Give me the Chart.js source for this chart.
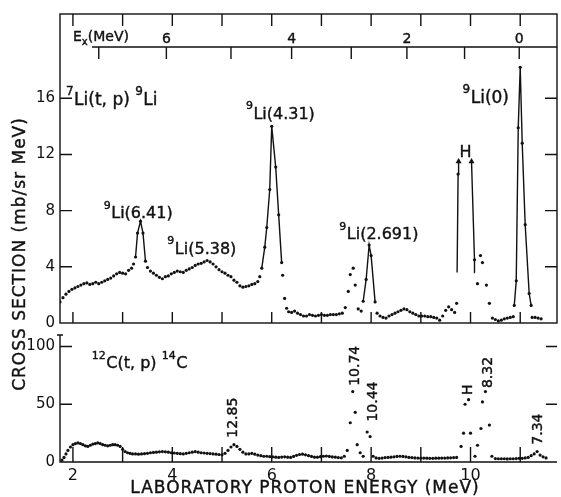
<!DOCTYPE html>
<html>
<head>
<meta charset="utf-8">
<script src="https://cdn.jsdelivr.net/npm/chart.js@4.4.1/dist/chart.umd.min.js"></script>
<style>
  html, body { margin: 0; padding: 0; background: #fff; }
  #wrap { position: relative; width: 561px; height: 497px; }
  #wrap canvas { position: absolute; left: 0; top: 0; }
</style>
</head>
<body>
<div id="wrap">
  <canvas id="topChart" width="561" height="497"></canvas>
  <canvas id="botChart" width="561" height="497"></canvas>
</div>
<script>
// ===== 7Li(t,p)9Li : pontos do contínuo (energia do próton, seção de choque) =====
const EP_TOP = [
  1.74, 1.80, 1.86, 1.92, 1.98, 2.04, 2.10, 2.16, 2.22, 2.28,
  2.34, 2.40, 2.46, 2.52, 2.58, 2.64, 2.70, 2.76, 2.82, 2.88,
  2.94, 3.00, 3.06, 3.12, 3.18, 3.22,
  3.50, 3.56, 3.62, 3.68, 3.74, 3.80, 3.86, 3.92, 3.98, 4.04,
  4.10, 4.16, 4.22, 4.28, 4.34, 4.40, 4.46, 4.52, 4.58, 4.64,
  4.70, 4.76, 4.82, 4.88, 4.94, 5.00, 5.06, 5.12, 5.18, 5.24,
  5.30, 5.36, 5.42, 5.48, 5.54, 5.60, 5.66, 5.72, 5.76,
  6.22, 6.26, 6.30, 6.34, 6.40, 6.46, 6.52, 6.58, 6.64, 6.70,
  6.76, 6.82, 6.88, 6.94, 7.00, 7.06, 7.12, 7.18, 7.24, 7.30,
  7.36, 7.42, 7.48, 7.54, 7.58, 7.64, 7.68, 7.74, 7.80,
  8.12, 8.18, 8.24, 8.30, 8.36, 8.42, 8.48, 8.54, 8.60, 8.66,
  8.72, 8.78, 8.84, 8.90, 8.96, 9.02, 9.08, 9.14, 9.20, 9.26,
  9.32, 9.38, 9.44, 9.50, 9.56, 9.62, 9.68, 9.72,
  10.14, 10.20, 10.24, 10.32, 10.38, 10.44, 10.50, 10.56, 10.62, 10.68,
  10.74, 10.80, 10.86,
  11.24, 11.30, 11.36, 11.42,
];
const XS_TOP = [
  1.5, 1.8, 2.05, 2.25, 2.4, 2.5, 2.6, 2.7, 2.8, 2.85,
  2.75, 2.8, 2.9, 2.8, 2.9, 3.0, 3.1, 3.2, 3.35, 3.5,
  3.6, 3.55, 3.5, 3.75, 3.9, 4.2,
  3.95, 3.7, 3.55, 3.4, 3.25, 3.15, 3.3, 3.35, 3.5, 3.6,
  3.7, 3.65, 3.6, 3.75, 3.85, 3.95, 4.1, 4.2, 4.25, 4.35,
  4.45, 4.35, 4.2, 4.0, 3.8, 3.65, 3.55, 3.4, 3.3, 3.05,
  2.9, 2.65, 2.55, 2.6, 2.65, 2.75, 2.8, 2.95, 3.3,
  3.4, 1.75, 1.05, 0.8, 0.75, 0.85, 0.7, 0.6, 0.5, 0.5,
  0.6, 0.55, 0.5, 0.55, 0.6, 0.55, 0.55, 0.6, 0.6, 0.6,
  0.65, 0.7, 1.1, 2.25, 3.45, 3.9, 2.7, 1.0, 0.85,
  0.7, 0.5, 0.4, 0.35, 0.5, 0.6, 0.7, 0.8, 0.9, 1.0,
  0.95, 0.8, 0.7, 0.6, 0.5, 0.5, 0.5, 0.45, 0.45, 0.4,
  0.35, 0.2, 0.5, 0.9, 1.15, 0.95, 0.75, 1.4,
  2.8, 4.8, 4.3, 2.7, 1.4, 0.35, 0.25, 0.15, 0.2, 0.3,
  0.35, 0.4, 0.45,
  0.4, 0.4, 0.35, 0.3,
];

// ===== Picos desenhados com linha =====
const PEAK_641_EP = [3.26, 3.30, 3.36, 3.41, 3.46];
const PEAK_641_XS = [4.7, 6.4, 7.25, 6.4, 4.4];
const PEAK_431_EP = [5.80, 5.86, 5.90, 5.96, 6.00, 6.08, 6.14, 6.20];
const PEAK_431_XS = [3.9, 5.4, 6.8, 9.5, 14.0, 11.1, 7.7, 4.3];
const PEAK_2691_EP = [7.84, 7.90, 7.96, 8.00, 8.08];
const PEAK_2691_XS = [1.55, 3.1, 5.55, 4.8, 1.5];
const PEAK_0_EP = [10.88, 10.92, 10.96, 11.00, 11.04, 11.10, 11.18, 11.22];
const PEAK_0_XS = [1.25, 3.0, 13.9, 18.2, 12.8, 7.0, 2.1, 1.25];
const H1_EP = [9.73, 9.75, 9.76];
const H1_XS = [3.6, 10.6, 11.5];
const H2_EP = [10.09, 10.08, 10.02];
const H2_XS = [3.6, 4.5, 11.5];

// ===== 12C(t,p)14C =====
const EP_BOT = [
  1.78, 1.82, 1.86, 1.90, 1.95, 2.00, 2.05, 2.10, 2.15, 2.20,
  2.25, 2.30, 2.35, 2.40, 2.45, 2.50, 2.55, 2.60, 2.65, 2.70,
  2.75, 2.80, 2.85, 2.90, 2.95, 3.00, 3.05, 3.10, 3.15, 3.20,
  3.26, 3.32, 3.38, 3.44, 3.50, 3.56, 3.62, 3.68, 3.74, 3.80,
  3.86, 3.92, 3.98, 4.04, 4.10, 4.16, 4.22, 4.28, 4.34, 4.40,
  4.46, 4.52, 4.58, 4.64, 4.70, 4.76, 4.82, 4.88, 4.94, 5.00,
  5.06, 5.12, 5.18, 5.24, 5.30, 5.36, 5.42, 5.48, 5.54, 5.60,
  5.66, 5.72, 5.78, 5.84, 5.90, 5.96, 6.02, 6.08, 6.14, 6.20,
  6.26, 6.32, 6.38, 6.44, 6.50, 6.56, 6.62, 6.68, 6.74, 6.80,
  6.86, 6.92, 6.98, 7.04, 7.10, 7.16, 7.22, 7.28, 7.34, 7.40,
  7.46, 7.52, 7.58, 7.63, 7.68, 7.72, 7.78, 7.84, 7.92, 7.98,
  8.04, 8.10, 8.16, 8.22, 8.28, 8.34, 8.40, 8.46, 8.52, 8.58,
  8.64, 8.70, 8.76, 8.82, 8.88, 8.94, 9.00, 9.06, 9.12, 9.18,
  9.24, 9.30, 9.36, 9.42, 9.48, 9.54, 9.60, 9.66, 9.72, 9.81,
  9.86, 9.89, 9.96, 10.00, 10.09, 10.14, 10.21, 10.24, 10.30, 10.38,
  10.43, 10.50, 10.56, 10.62, 10.68, 10.74, 10.80, 10.86, 10.92, 10.98,
  11.04, 11.10, 11.16, 11.22, 11.28, 11.34, 11.40, 11.46, 11.52,
];
const XS_BOT = [
  1.7, 4, 7, 10, 13, 15, 16, 16.5, 16, 15,
  14, 13.5, 14.5, 15.5, 16, 16.5, 16, 15, 14.5, 14,
  14.5, 15, 15, 14.5, 13.5, 11, 9, 8, 7.5, 7,
  7, 6.8, 7, 7.2, 7.5, 8, 8.3, 8.5, 8.8, 9,
  8.8, 8.5, 8, 7.8, 7.5, 7.2, 7, 7.5, 8, 8.5,
  9, 8.5, 8, 7.8, 7.5, 7.3, 7, 6.8, 6.5, 6.2,
  7.5, 10, 13, 15, 13.5, 11, 8.5, 7, 7, 7.5,
  6.8, 6, 5.5, 5, 5, 4.6, 4.5, 4.2, 4, 4.3,
  4.5, 4.2, 4, 4.8, 5.8, 6.5, 6.8, 6.2, 5.5, 4.8,
  4.2, 4.2, 4.6, 5, 5.2, 4.8, 4.4, 4.2, 3.8, 3.6,
  5, 10, 34, 61, 43, 15, 8, 5, 26, 22,
  5, 3.5, 3.2, 3.4, 3.8, 4, 4.2, 4.5, 4.8, 5,
  4.8, 4.5, 4, 3.8, 3.5, 3.4, 3.3, 3.4, 3.3, 3.2,
  3.2, 3.3, 3.3, 3.4, 3.4, 3.5, 3.6, 3.8, 4, 13.5,
  25, 50, 54, 25, 5, 14.5, 29, 52, 61, 32,
  5, 3, 2.8, 2.8, 2.8, 2.7, 2.8, 2.8, 3, 3.2,
  3.2, 3.5, 4, 5.5, 7, 9, 6, 4.5, 3.5,
];

// ===== Eixos =====
const X_LABEL_TICKS = [2, 4, 6, 8, 10];
const X_MARK_TICKS = [2, 3, 4, 5, 6, 7, 8, 9, 10, 11];
const Y_TOP_TICKS = [0, 4, 8, 12, 16];
const Y_BOT_TICKS = [0, 50, 100];
// escala de excitação Ex (MeV) e a energia do próton onde cai cada marca
const EX_TICKS = [7, 6, 5, 4, 3, 2, 1, 0];
const EX_TICK_EP = [2.52, 3.88, 5.18, 6.40, 7.60, 8.72, 9.88, 10.98];

const FONT = 'DejaVu Sans';
const INK = '#111';

// ===== Rótulos =====
const TOP_NOTES = [
  { parts: [['7', 'Li(t, p) '], ['9', 'Li']], ep: 1.86, val: 15.5, size: 17 },
  { parts: [['9', 'Li(6.41)']], ep: 2.62, val: 7.45, size: 16 },
  { parts: [['9', 'Li(5.38)']], ep: 3.90, val: 4.92, size: 16 },
  { parts: [['9', 'Li(4.31)']], ep: 5.48, val: 14.55, size: 16 },
  { parts: [['9', 'Li(2.691)']], ep: 7.36, val: 5.97, size: 16 },
  { parts: [['9', 'Li(0)']], ep: 9.84, val: 15.67, size: 17 },
  { parts: [['', 'H']], ep: 9.78, val: 11.8, size: 16 },
];
const BOT_NOTES = [
  { parts: [['12', 'C(t, p) '], ['14', 'C']], ep: 2.38, val: 81, size: 16 },
];
const BOT_TAGS = [
  { text: '12.85', ep: 5.22, val: 21 },
  { text: '10.74', ep: 7.68, val: 66 },
  { text: '10.44', ep: 8.04, val: 35 },
  { text: 'H', ep: 9.96, val: 58 },
  { text: '8.32', ep: 10.36, val: 64 },
  { text: '7.34', ep: 11.36, val: 15 },
];

// ===== Auxiliares =====
function pares(xs, ys) {
  return xs.map((x, i) => ({ x, y: ys[i] }));
}

function pontos(data) {
  return { data, showLine: false, pointRadius: 1.6, pointBackgroundColor: INK, pointBorderWidth: 0 };
}

function curva(data) {
  return {
    data, showLine: true, borderColor: INK, borderWidth: 1.4,
    pointRadius: 1.6, pointBackgroundColor: INK, pointBorderWidth: 0,
  };
}

function seta(data) {
  const ds = curva(data);
  ds.pointStyle = ['circle', 'circle', 'triangle'];
  ds.pointRadius = [0, 1.6, 3.5];
  return ds;
}

// texto com traço leve, para imitar o letreiro mais grosso do original
function escrever(ctx, txt, x, y) {
  ctx.fillText(txt, x, y);
  ctx.strokeText(txt, x, y);
}

function desenharRotulo(ctx, parts, px, py, size) {
  let cx = px;
  parts.forEach(([sup, txt]) => {
    if (sup) {
      ctx.font = `${Math.round(size * 0.68)}px ${FONT}`;
      escrever(ctx, sup, cx, py - size * 0.6);
      cx += ctx.measureText(sup).width + 0.5;
    }
    ctx.font = `${size}px ${FONT}`;
    escrever(ctx, txt, cx, py);
    cx += ctx.measureText(txt).width;
  });
}

// ===== Plugin: moldura, marcas internas, eixo Ex e rótulos (painel de cima) =====
const molduraTopo = {
  id: 'molduraTopo',
  afterDraw(chart) {
    const { ctx, chartArea: a, scales: { x, y } } = chart;
    ctx.save();
    ctx.strokeStyle = INK;
    ctx.fillStyle = INK;
    ctx.lineWidth = 1.4;
    ctx.strokeRect(a.left, a.top, a.right - a.left, a.bottom - a.top);

    ctx.beginPath();
    X_MARK_TICKS.forEach((v) => {
      const px = x.getPixelForValue(v);
      ctx.moveTo(px, a.bottom); ctx.lineTo(px, a.bottom - 11);
      ctx.moveTo(px, a.top); ctx.lineTo(px, a.top + 12);
    });
    Y_TOP_TICKS.slice(1).forEach((v) => {
      const py = y.getPixelForValue(v);
      ctx.moveTo(a.left, py); ctx.lineTo(a.left + 12, py);
      ctx.moveTo(a.right, py); ctx.lineTo(a.right - 12, py);
    });

    // eixo Ex
    const ey = a.top + 33;
    ctx.moveTo(a.left + 32, ey); ctx.lineTo(a.right, ey);
    EX_TICK_EP.forEach((v) => {
      const px = x.getPixelForValue(v);
      ctx.moveTo(px, ey); ctx.lineTo(px, ey + 12);
    });
    ctx.stroke();

    ctx.lineWidth = 0.4;
    ctx.textAlign = 'center';
    ctx.textBaseline = 'alphabetic';
    ctx.font = `14px ${FONT}`;
    EX_TICKS.forEach((v, i) => {
      if (v % 2 === 0) escrever(ctx, String(v), x.getPixelForValue(EX_TICK_EP[i]), ey - 4);
    });

    ctx.textAlign = 'left';
    ctx.font = `14px ${FONT}`;
    let cx = a.left + 13;
    escrever(ctx, 'E', cx, ey - 6);
    cx += ctx.measureText('E').width;
    ctx.font = `10px ${FONT}`;
    escrever(ctx, 'x', cx, ey - 2);
    cx += ctx.measureText('x').width;
    ctx.font = `14px ${FONT}`;
    escrever(ctx, '(MeV)', cx, ey - 6);

    TOP_NOTES.forEach((n) => {
      desenharRotulo(ctx, n.parts, x.getPixelForValue(n.ep), y.getPixelForValue(n.val), n.size);
    });
    ctx.restore();
  },
};

// ===== Plugin: eixos e rótulos do painel de baixo + títulos =====
const molduraBase = {
  id: 'molduraBase',
  afterDraw(chart) {
    const { ctx, chartArea: a, scales: { x, y } } = chart;
    ctx.save();
    ctx.strokeStyle = INK;
    ctx.fillStyle = INK;
    ctx.lineWidth = 1.4;

    ctx.beginPath();
    ctx.moveTo(a.left, a.top); ctx.lineTo(a.left, a.bottom); ctx.lineTo(a.right, a.bottom);
    ctx.moveTo(a.left - 3, a.top); ctx.lineTo(a.left + 3, a.top);
    X_MARK_TICKS.forEach((v) => {
      const px = x.getPixelForValue(v);
      ctx.moveTo(px, a.bottom); ctx.lineTo(px, a.bottom - 15);
    });
    Y_BOT_TICKS.slice(1).forEach((v) => {
      const py = y.getPixelForValue(v);
      ctx.moveTo(a.left, py); ctx.lineTo(a.left + 12, py);
      ctx.moveTo(a.right, py); ctx.lineTo(a.right - 11, py);
    });
    ctx.stroke();

    ctx.lineWidth = 0.4;
    ctx.textAlign = 'left';
    ctx.textBaseline = 'alphabetic';
    BOT_NOTES.forEach((n) => {
      desenharRotulo(ctx, n.parts, x.getPixelForValue(n.ep), y.getPixelForValue(n.val), n.size);
    });

    ctx.font = `14px ${FONT}`;
    ctx.textBaseline = 'middle';
    BOT_TAGS.forEach((t) => {
      ctx.save();
      ctx.translate(x.getPixelForValue(t.ep), y.getPixelForValue(t.val));
      ctx.rotate(-Math.PI / 2);
      escrever(ctx, t.text, 0, 0);
      ctx.restore();
    });

    // títulos dos eixos
    ctx.textAlign = 'center';
    ctx.font = `17px ${FONT}`;
    ctx.letterSpacing = '1px';
    escrever(ctx, 'LABORATORY PROTON ENERGY (MeV)', 305, 489);
    ctx.translate(21, 254);
    ctx.rotate(-Math.PI / 2);
    escrever(ctx, 'CROSS SECTION (mb/sr MeV)', 0, 0);
    ctx.restore();
  },
};

const tickFont = { family: FONT, size: 15 };

// ===== Painel de cima =====
new Chart(document.getElementById('topChart'), {
  type: 'scatter',
  data: {
    datasets: [
      pontos(pares(EP_TOP, XS_TOP)),
      curva(pares(PEAK_641_EP, PEAK_641_XS)),
      curva(pares(PEAK_431_EP, PEAK_431_XS)),
      curva(pares(PEAK_2691_EP, PEAK_2691_XS)),
      curva(pares(PEAK_0_EP, PEAK_0_XS)),
      seta(pares(H1_EP, H1_XS)),
      seta(pares(H2_EP, H2_XS)),
    ],
  },
  options: {
    responsive: false,
    animation: false,
    events: [],
    layout: { padding: { left: 0, right: 1, top: 10, bottom: 174 } },
    plugins: { legend: { display: false }, tooltip: { enabled: false } },
    scales: {
      x: { type: 'linear', min: 1.74, max: 11.74, display: false },
      y: {
        min: 0, max: 22,
        grid: { display: false, drawTicks: false },
        border: { display: false },
        ticks: { font: tickFont, color: INK, padding: 5 },
        afterBuildTicks: (s) => { s.ticks = Y_TOP_TICKS.map((v) => ({ value: v })); },
        afterFit: (s) => { s.width = 60; },
      },
    },
  },
  plugins: [molduraTopo],
});

// ===== Painel de baixo =====
new Chart(document.getElementById('botChart'), {
  type: 'scatter',
  data: { datasets: [pontos(pares(EP_BOT, XS_BOT))] },
  options: {
    responsive: false,
    animation: false,
    events: [],
    layout: { padding: { left: 0, right: 1, top: 335, bottom: 0 } },
    plugins: { legend: { display: false }, tooltip: { enabled: false } },
    scales: {
      x: {
        type: 'linear', min: 1.74, max: 11.74,
        grid: { display: false, drawTicks: false },
        border: { display: false },
        ticks: { font: { family: FONT, size: 16 }, color: INK, padding: 4, maxRotation: 0 },
        afterBuildTicks: (s) => { s.ticks = X_LABEL_TICKS.map((v) => ({ value: v })); },
        afterFit: (s) => { s.height = 35; },
      },
      y: {
        min: 0, max: 110,
        grid: { display: false, drawTicks: false },
        border: { display: false },
        ticks: { font: tickFont, color: INK, padding: 5 },
        afterBuildTicks: (s) => { s.ticks = Y_BOT_TICKS.map((v) => ({ value: v })); },
        afterFit: (s) => { s.width = 60; },
      },
    },
  },
  plugins: [molduraBase],
});
</script>
</body>
</html>
